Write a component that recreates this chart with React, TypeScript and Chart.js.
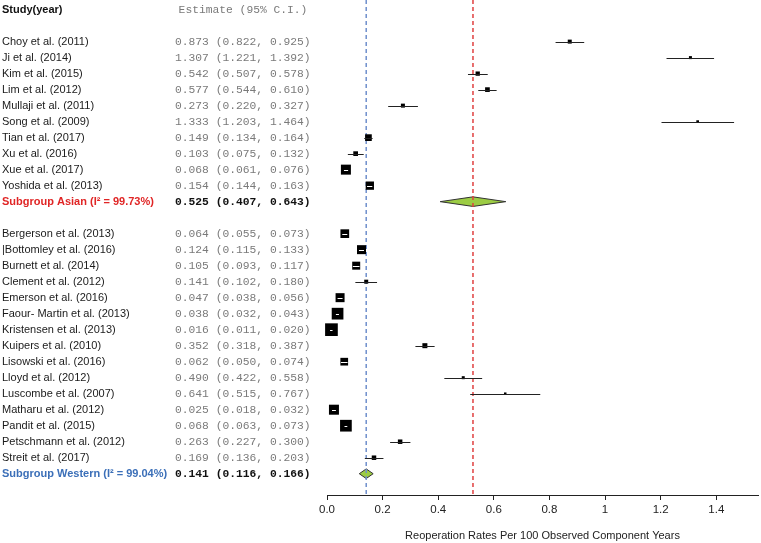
import React, { useEffect, useRef } from 'react';
import { Chart, registerables } from 'chart.js';

Chart.register(...registerables);

// ---------- data ----------
const asianStudies = [
  'Choy et al. (2011)', 'Ji et al. (2014)', 'Kim et al. (2015)', 'Lim et al. (2012)',
  'Mullaji et al. (2011)', 'Song et al. (2009)', 'Tian et al. (2017)', 'Xu et al. (2016)',
  'Xue et al. (2017)', 'Yoshida et al. (2013)',
];
const asianEst = [0.873, 1.307, 0.542, 0.577, 0.273, 1.333, 0.149, 0.103, 0.068, 0.154];
const asianLo = [0.822, 1.221, 0.507, 0.544, 0.220, 1.203, 0.134, 0.075, 0.061, 0.144];
const asianHi = [0.925, 1.392, 0.578, 0.610, 0.327, 1.464, 0.164, 0.132, 0.076, 0.163];
const asianWeight = [4, 3, 4.3, 4.7, 4, 2.7, 6.7, 4.7, 10, 8.3];

const westernStudies = [
  'Bergerson et al. (2013)', '|Bottomley et al. (2016)', 'Burnett et al. (2014)',
  'Clement et al. (2012)', 'Emerson et al. (2016)', 'Faour- Martin et al. (2013)',
  'Kristensen et al. (2013)', 'Kuipers et al. (2010)', 'Lisowski et al. (2016)',
  'Lloyd et al. (2012)', 'Luscombe et al. (2007)', 'Matharu et al. (2012)',
  'Pandit et al. (2015)', 'Petschmann et al. (2012)', 'Streit et al. (2017)',
];
const westernEst = [0.064, 0.124, 0.105, 0.141, 0.047, 0.038, 0.016, 0.352, 0.062, 0.490, 0.641, 0.025, 0.068, 0.263, 0.169];
const westernLo = [0.055, 0.115, 0.093, 0.102, 0.038, 0.032, 0.011, 0.318, 0.050, 0.422, 0.515, 0.018, 0.063, 0.227, 0.136];
const westernHi = [0.073, 0.133, 0.117, 0.180, 0.056, 0.043, 0.020, 0.387, 0.074, 0.558, 0.767, 0.032, 0.073, 0.300, 0.203];
const westernWeight = [8.7, 9, 8, 4, 9, 11.7, 12.7, 5, 7.7, 3, 2.5, 10, 11.7, 4.5, 4.5];

const subgroupLabels = ['Subgroup Asian (I\u00B2 = 99.73%)', 'Subgroup Western (I\u00B2 = 99.04%)'];
const subgroupEst = [0.525, 0.141];
const subgroupLo = [0.407, 0.116];
const subgroupHi = [0.643, 0.166];

const headerLabels = ['Study(year)', 'Estimate (95% C.I.)'];
const xTicks = [0, 0.2, 0.4, 0.6, 0.8, 1, 1.2, 1.4];
const xTitle = 'Reoperation Rates Per 100 Observed Component Years';

// ---------- styles ----------
const SANS = '"Liberation Sans", Arial, sans-serif';
const MONO = '"Liberation Mono", "Courier New", monospace';
const subgroupColors = ['#e02525', '#3b6fb8'];
const refLineColors = ['#e04040', '#6f8fcc'];

type Row = { label: string; est: number; lo: number; hi: number; w: number; row: number };

const rows: Row[] = [];
asianStudies.forEach((s, i) =>
  rows.push({ label: s, est: asianEst[i], lo: asianLo[i], hi: asianHi[i], w: asianWeight[i], row: i })
);
const asianSubRow = asianStudies.length;
const westStart = asianSubRow + 2;
westernStudies.forEach((s, i) =>
  rows.push({ label: s, est: westernEst[i], lo: westernLo[i], hi: westernHi[i], w: westernWeight[i], row: westStart + i })
);
const westernSubRow = westStart + westernStudies.length;
const subRows = [asianSubRow, westernSubRow];

const fmt = (e: number, l: number, h: number) => `${e.toFixed(3)} (${l.toFixed(3)}, ${h.toFixed(3)})`;

const forestPlugin = {
  id: 'forest',
  beforeDatasetsDraw(chart: any) {
    const { ctx, chartArea, scales } = chart;
    const xs = scales.x;
    const ys = scales.y;
    // diamonds
    subRows.forEach((r, i) => {
      const yc = ys.getPixelForValue(r);
      const yt = ys.getPixelForValue(r - 0.3);
      const yb = ys.getPixelForValue(r + 0.3);
      ctx.save();
      ctx.beginPath();
      ctx.moveTo(xs.getPixelForValue(subgroupLo[i]), yc);
      ctx.lineTo(xs.getPixelForValue(subgroupEst[i]), yt);
      ctx.lineTo(xs.getPixelForValue(subgroupHi[i]), yc);
      ctx.lineTo(xs.getPixelForValue(subgroupEst[i]), yb);
      ctx.closePath();
      ctx.fillStyle = '#9ccc44';
      ctx.fill();
      ctx.lineWidth = 1;
      ctx.strokeStyle = '#333';
      ctx.stroke();
      ctx.restore();
    });
    // dashed reference lines
    subgroupEst.forEach((v, i) => {
      const x = xs.getPixelForValue(v);
      ctx.save();
      ctx.beginPath();
      ctx.setLineDash([4, 3]);
      ctx.strokeStyle = refLineColors[i];
      ctx.lineWidth = 1.5;
      ctx.moveTo(x, chartArea.top);
      ctx.lineTo(x, chartArea.bottom);
      ctx.stroke();
      ctx.restore();
    });
  },
  afterDatasetsDraw(chart: any) {
    const { ctx, scales } = chart;
    const xs = scales.x;
    const ys = scales.y;
    rows.forEach((r) => {
      const y = Math.round(ys.getPixelForValue(r.row)) + 0.5;
      const xl = xs.getPixelForValue(r.lo);
      const xh = xs.getPixelForValue(r.hi);
      const xc = xs.getPixelForValue(r.est);
      const half = r.w / 2;
      const inside = xl >= xc - half && xh <= xc + half;
      ctx.save();
      ctx.beginPath();
      ctx.lineWidth = 1;
      ctx.strokeStyle = inside ? '#ffffff' : '#222';
      ctx.moveTo(xl, y);
      ctx.lineTo(xh, y);
      ctx.stroke();
      ctx.restore();
    });
  },
  afterDraw(chart: any) {
    const { ctx, scales } = chart;
    const ys = scales.y;
    const nameX = 2;
    const estX = 175;
    ctx.save();
    ctx.textBaseline = 'middle';
    // headers
    const hy = ys.getPixelForValue(-2);
    ctx.font = `bold 11px ${SANS}`;
    ctx.fillStyle = '#111';
    ctx.textAlign = 'left';
    ctx.fillText(headerLabels[0], nameX, hy);
    ctx.font = `11.3px ${MONO}`;
    ctx.fillStyle = '#7a7a7a';
    ctx.textAlign = 'center';
    ctx.fillText(headerLabels[1], 243, hy);
    ctx.textAlign = 'left';
    rows.forEach((r) => {
      const y = ys.getPixelForValue(r.row);
      ctx.font = `11px ${SANS}`;
      ctx.fillStyle = '#1a1a1a';
      ctx.fillText(r.label, nameX, y);
      ctx.font = `11.3px ${MONO}`;
      ctx.fillStyle = '#7a7a7a';
      ctx.fillText(fmt(r.est, r.lo, r.hi), estX, y);
    });
    subRows.forEach((rr, i) => {
      const y = ys.getPixelForValue(rr);
      ctx.font = `bold 11px ${SANS}`;
      ctx.fillStyle = subgroupColors[i];
      ctx.fillText(subgroupLabels[i], nameX, y);
      ctx.font = `bold 11.3px ${MONO}`;
      ctx.fillStyle = '#111';
      ctx.fillText(fmt(subgroupEst[i], subgroupLo[i], subgroupHi[i]), estX, y);
    });
    ctx.restore();
  },
};

export default function App() {
  const ref = useRef<HTMLCanvasElement | null>(null);
  useEffect(() => {
    if (!ref.current) return;
    const chart = new Chart(ref.current, {
      type: 'scatter',
      data: {
        datasets: [
          {
            data: rows.map((r) => ({ x: r.est, y: r.row })),
            pointStyle: 'rect',
            pointRadius: rows.map((r) => r.w / (2 * Math.SQRT1_2)),
            pointHoverRadius: rows.map((r) => r.w / (2 * Math.SQRT1_2)),
            backgroundColor: '#000',
            borderWidth: 0,
            clip: false,
          } as any,
        ],
      },
      options: {
        animation: false,
        responsive: false,
        maintainAspectRatio: false,
        devicePixelRatio: 1,
        layout: { autoPadding: false, padding: { left: 327, right: 3, top: 0, bottom: 0 } },
        plugins: { legend: { display: false }, tooltip: { enabled: false } },
        events: [],
        scales: {
          x: {
            type: 'linear',
            min: 0,
            max: 1.55,
            afterBuildTicks: (s: any) => {
              s.ticks = xTicks.map((v) => ({ value: v }));
            },
            afterFit: (s: any) => {
              s.height = 48;
            },
            grid: { drawOnChartArea: false, drawTicks: true, tickLength: 5, color: '#222' },
            border: { display: true, color: '#222', width: 1 },
            ticks: {
              color: '#222',
              font: { family: SANS, size: 11.5 },
              padding: 3,
              maxRotation: 0,
              autoSkip: false,
              callback: (v: any) => (Number(v) === 1 ? '1' : Number(v).toFixed(1)),
            },
            title: {
              display: true,
              text: xTitle,
              color: '#222',
              font: { family: SANS, size: 11 },
              padding: { top: 0, bottom: 0 },
            },
          },
          y: {
            type: 'linear',
            min: -2.6,
            max: 28.33,
            reverse: true,
            display: false,
          },
        },
      } as any,
      plugins: [forestPlugin],
    });
    return () => chart.destroy();
  }, []);
  return (
    <div style={{ position: 'fixed', left: 0, top: 0, width: 761, height: 543, background: '#fff' }}>
      <canvas ref={ref} width={761} height={543} style={{ display: 'block' }} />
    </div>
  );
}
